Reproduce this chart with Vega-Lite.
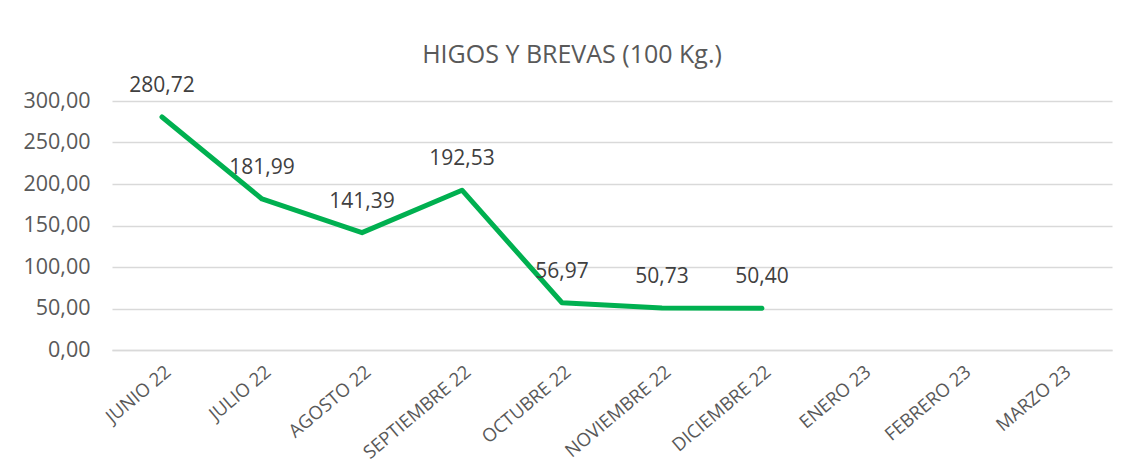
{
  "$schema": "https://vega.github.io/schema/vega-lite/v6.json",
  "autosize": {"type": "none"},
  "padding": {"left": 112, "top": 101, "right": 16, "bottom": 125},
  "width": 1000,
  "height": 249,
  "background": "white",
  "title": {
    "text": "HIGOS Y BREVAS (100 Kg.)",
    "font": "Open Sans",
    "fontSize": 25,
    "fontWeight": "normal",
    "color": "#595959",
    "anchor": "middle",
    "frame": "group",
    "dx": -40,
    "offset": 7
  },
  "config": {
    "locale": {"number": {"decimal": ",", "thousands": ".", "grouping": [3], "currency": ["", " €"]}},
    "view": {"stroke": null},
    "font": "Open Sans"
  },
  "data": {
    "values": [
      {"mes": "JUNIO 22", "valor": 280.72},
      {"mes": "JULIO 22", "valor": 181.99},
      {"mes": "AGOSTO 22", "valor": 141.39},
      {"mes": "SEPTIEMBRE 22", "valor": 192.53},
      {"mes": "OCTUBRE 22", "valor": 56.97},
      {"mes": "NOVIEMBRE 22", "valor": 50.73},
      {"mes": "DICIEMBRE 22", "valor": 50.40},
      {"mes": "ENERO 23", "valor": null},
      {"mes": "FEBRERO 23", "valor": null},
      {"mes": "MARZO 23", "valor": null}
    ]
  },
  "encoding": {
    "x": {
      "field": "mes",
      "type": "ordinal",
      "sort": null,
      "scale": {"domain": ["JUNIO 22", "JULIO 22", "AGOSTO 22", "SEPTIEMBRE 22", "OCTUBRE 22", "NOVIEMBRE 22", "DICIEMBRE 22", "ENERO 23", "FEBRERO 23", "MARZO 23"], "paddingInner": 0, "paddingOuter": 0.5},
      "axis": {
        "title": null,
        "labelAngle": -40,
        "labelFont": "Open Sans",
        "labelFontSize": 18.5,
        "labelColor": "#595959",
        "ticks": false,
        "labelPadding": 12,
        "domainColor": "#d9d9d9",
        "domainWidth": 1.5,
        "grid": false
      }
    },
    "y": {
      "field": "valor",
      "type": "quantitative",
      "scale": {"domain": [0, 300]},
      "axis": {
        "title": null,
        "values": [0, 50, 100, 150, 200, 250, 300],
        "format": ".2f",
        "labelFont": "Open Sans",
        "labelFontSize": 21.5,
        "labelColor": "#595959",
        "ticks": false,
        "domain": false,
        "labelPadding": 22,
        "gridColor": "#d9d9d9",
        "gridWidth": 1.5
      }
    }
  },
  "layer": [
    {
      "mark": {"type": "line", "color": "#00B050", "strokeWidth": 5, "strokeCap": "round", "strokeJoin": "round"}
    },
    {
      "transform": [{"filter": "datum.valor != null"}],
      "mark": {"type": "text", "dy": -31, "fontSize": 21, "color": "#404040", "font": "Open Sans"},
      "encoding": {
        "text": {"field": "valor", "type": "quantitative", "format": ".2f"}
      }
    }
  ]
}
